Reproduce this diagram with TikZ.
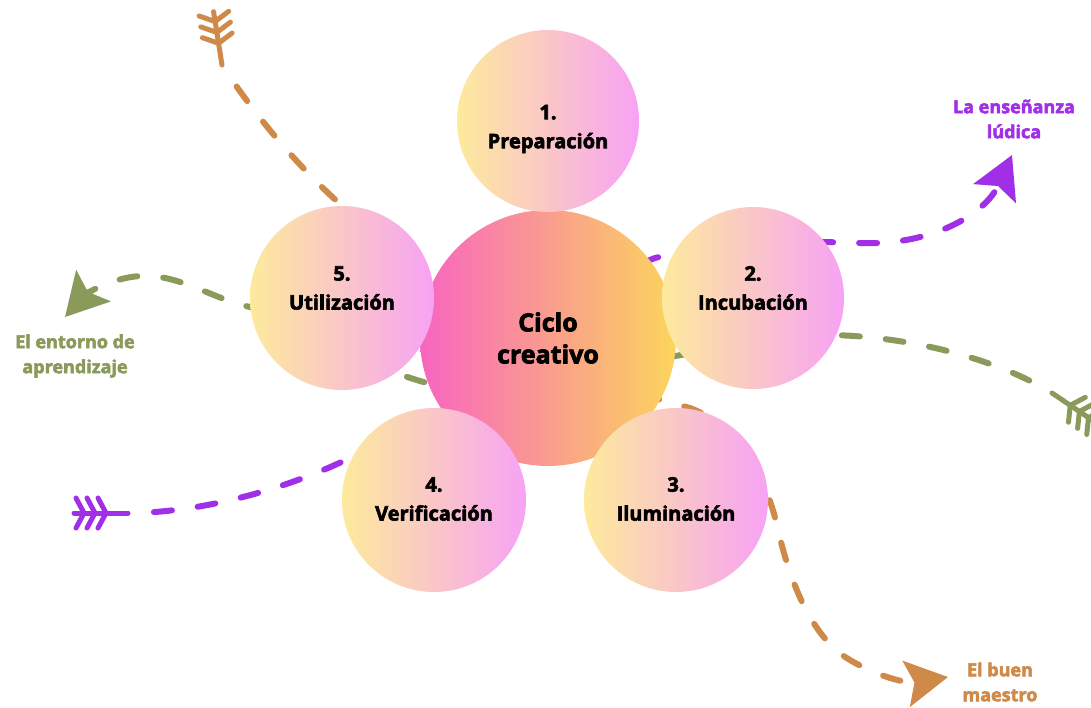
\documentclass[tikz,border=0pt]{standalone}
\usepackage{fontspec}
\setmainfont{Open Sans}[BoldFeatures={FakeBold=3}]
\usetikzlibrary{arrows.meta}

\definecolor{cOrange}{HTML}{CF8A4A}
\definecolor{cGreen}{HTML}{8A9A5B}
\definecolor{cPurple}{HTML}{A22FE8}
\definecolor{stepL}{HTML}{FDEA9C}
\definecolor{stepR}{HTML}{F7A2F4}
\definecolor{coreL}{HTML}{F865C0}
\definecolor{coreR}{HTML}{FBD55C}

\begin{document}
\begin{tikzpicture}[x=1pt,y=-1pt,
  flow/.style={line width=6pt, line cap=round, dash pattern=on 18pt off 26pt, dash phase=18pt},
  head/.style={-{Stealth[length=42pt,width=46pt,inset=8pt]}},
  stage/.style={circle, minimum size=184pt, inner sep=0pt,
    left color=stepL, right color=stepR},
  stagetext/.style={align=center, font=\fontsize{20}{29}\selectfont\bfseries},
  core/.style={circle, minimum size=256pt, inner sep=0pt,
    left color=coreL, right color=coreR, align=center,
    font=\fontsize{25}{32}\selectfont\bfseries},
  lbl/.style={align=center, font=\fontsize{18}{25}\selectfont\bfseries},
  fletch/.pic={
    \draw[line width=5pt, line cap=round] (0,0) -- (54,0);
    \foreach \s in {22,33,44}{
      \draw[line width=5pt, line cap=round, line join=round]
        (\s+8,15) -- (\s,0) -- (\s+8,-15);
    }
  }]
\useasboundingbox (0,0) rectangle (1091,707);
\fill[white] (0,0) rectangle (1091,707);

% free ends of the three long arrows
\coordinate (oTail) at (222,65);
\coordinate (oTip)  at (948,677);
\coordinate (gTail) at (1052,393);
\coordinate (gTip)  at (65,317);
\coordinate (pTail) at (128,513);
\coordinate (pTip)  at (1012,155);

% arrows run underneath the circles
\draw[flow, cOrange, head] (oTail)
  .. controls (258,120) and (300,168) .. (340,204)
  .. controls (380,240) and (400,290) .. (427,315)
  .. controls (454,340) and (640,395) .. (690,408)
  .. controls (735,425) and (765,470) .. (778,530)
  .. controls (792,590) and (815,640) .. (850,660)
  .. controls (875,675) and (905,684) .. (oTip);
\pic[color=cOrange, rotate=99] at (oTail) {fletch};

\draw[flow, cGreen, head] (gTail)
  .. controls (990,355) and (900,336) .. (830,335)
  .. controls (700,340) and (500,405) .. (420,381)
  .. controls (340,357) and (300,318) .. (250,307)
  .. controls (210,298) and (180,274) .. (140,276)
  .. controls (110,278) and (85,295) .. (gTip);
\pic[color=cGreen, rotate=-34] at (gTail) {fletch};

\draw[flow, cPurple, head] (pTail)
  .. controls (200,513) and (280,490) .. (337,464)
  .. controls (394,438) and (450,440) .. (500,420)
  .. controls (560,395) and (600,275) .. (655,258)
  .. controls (710,245) and (790,240) .. (860,243)
  .. controls (930,246) and (985,215) .. (pTip);
\pic[color=cPurple, rotate=180] at (pTail) {fletch};

% central circle and the five stages
\node[core] (ciclo) at (548,338) {Ciclo\\creativo};
\node[stage, minimum size=182pt] (s1) at (548,121) {};
\node[stage, minimum size=182pt] (s2) at (753,298) {};
\node[stage] (s3) at (676,500) {};
\node[stage] (s4) at (434,500) {};
\node[stage] (s5) at (342,298) {};

\node[stagetext] (t1) at ([yshift=-8pt]s1.center) {1.\\Preparación};
\node[stagetext] (t2) at ([yshift=10pt]s2.center) {2.\\Incubación};
\node[stagetext] (t3) at ([yshift=1pt]s3.center) {3.\\Iluminación};
\node[stagetext] (t4) at ([yshift=1pt]s4.center) {4.\\Verificación};
\node[stagetext] (t5) at ([yshift=10pt]s5.center) {5.\\Utilización};

% labels at the arrow heads
\node[lbl, text=cPurple] (lbPurple) at (1014,119) {La enseñanza\\lúdica};
\node[lbl, text=cGreen]  (lbGreen)  at (75,356)   {El entorno de\\aprendizaje};
\node[lbl, text=cOrange] (lbOrange) at (1000,682) {El buen\\maestro};
\end{tikzpicture}
\end{document}
